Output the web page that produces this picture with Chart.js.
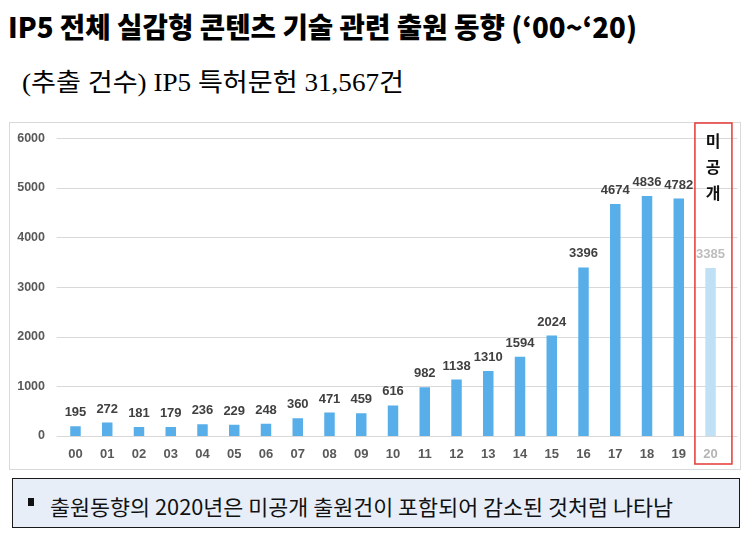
<!DOCTYPE html>
<html>
<head>
<meta charset="utf-8">
<script src="https://cdn.jsdelivr.net/npm/chart.js@4"></script>
<style>
  html, body { margin: 0; padding: 0; background: #fff; }
  body { width: 747px; height: 534px; position: relative; overflow: hidden; }
  .fit { position: absolute; white-space: nowrap; display: inline-block; transform-origin: 0 0; line-height: 1; }
  #title { left: 8px; top: 6px; font: 900 28px "Noto Sans CJK KR", sans-serif; color: #000; }
  #subtitle { left: 22px; top: 62px; font: 400 25px "Liberation Serif", "Noto Sans CJK KR", serif; color: #000; }
  #frame { position: absolute; left: 9px; top: 122px; width: 732px; height: 348px; box-sizing: border-box; border: 1px solid #d9d9d9; }
  #wrap { position: absolute; left: 9px; top: 116px; width: 732px; height: 354px; }
  #note { position: absolute; left: 12px; top: 478px; width: 728px; height: 50px; box-sizing: border-box; border: 1px solid #1a1a1a; background: #e7eef8; }
  #bullet { position: absolute; left: 28px; top: 498px; width: 6px; height: 8px; background: #111; }
  #notetext { left: 50px; top: 491px; font: 400 21px "Noto Sans CJK KR", sans-serif; color: #111; }
</style>
</head>
<body>
<div id="title" class="fit">IP5 전체 실감형 콘텐츠 기술 관련 출원 동향 (‘00~‘20)</div>
<div id="subtitle" class="fit">(추출 건수) IP5 특허문헌 31,567건</div>
<div id="frame"></div>
<div id="wrap"><canvas id="c"></canvas></div>
<div id="note"></div>
<div id="bullet"></div>
<div id="notetext" class="fit">출원동향의 2020년은 미공개 출원건이 포함되어 감소된 것처럼 나타남</div>
<script>
const categories = ['00','01','02','03','04','05','06','07','08','09','10','11','12','13','14','15','16','17','18','19','20'];
const filings = [195,272,181,179,236,229,248,360,471,459,616,982,1138,1310,1594,2024,3396,4674,4836,4782,3385];
const yTickValues = [0,1000,2000,3000,4000,5000,6000];
const unpublishedLabel = ['미','공','개'];
const unpublishedIndex = 20;

function fit(id, target) {
  const el = document.getElementById(id);
  const w = el.getBoundingClientRect().width;
  el.style.transform = 'scaleX(' + (target / w) + ')';
}
fit('title', 629);
fit('subtitle', 382);
fit('notetext', 623);

const barColor = '#57aee9';
const lightColor = '#bfe0f5';

const gridPlugin = {
  id: 'grid',
  beforeDatasetsDraw(chart) {
    const { ctx, chartArea, scales } = chart;
    ctx.save();
    ctx.strokeStyle = '#d9d9d9';
    ctx.lineWidth = 1;
    yTickValues.forEach(v => {
      const y = Math.round(scales.y.getPixelForValue(v)) + 0.5;
      ctx.beginPath();
      ctx.moveTo(chartArea.left - 3, y);
      ctx.lineTo(chartArea.right + 11, y);
      ctx.stroke();
    });
    ctx.restore();
  }
};

const labelPlugin = {
  id: 'labels',
  afterDatasetsDraw(chart) {
    const { ctx } = chart;
    const meta = chart.getDatasetMeta(0);
    ctx.save();
    ctx.font = 'bold 13px "Liberation Sans", sans-serif';
    ctx.textAlign = 'center';
    ctx.textBaseline = 'bottom';
    meta.data.forEach((bar, i) => {
      ctx.fillStyle = i === unpublishedIndex ? '#bdbdbd' : '#404040';
      ctx.fillText(String(filings[i]), bar.x, bar.y - 7);
    });
    const cx = chart.scales.x.getPixelForValue(unpublishedIndex);
    ctx.strokeStyle = '#e53935';
    ctx.lineWidth = 1.5;
    ctx.strokeRect(cx - 15.6, 7, 37, 341);
    ctx.fillStyle = '#111';
    ctx.font = 'bold 16px "Noto Sans CJK KR", sans-serif';
    ctx.textBaseline = 'middle';
    unpublishedLabel.forEach((ch, k) => {
      ctx.fillText(ch, cx + 2.5, 25 + k * 26);
    });
    ctx.restore();
  }
};

new Chart(document.getElementById('c'), {
  type: 'bar',
  data: {
    labels: categories,
    datasets: [{
      data: filings,
      backgroundColor: filings.map((v, i) => i === unpublishedIndex ? lightColor : barColor),
      barPercentage: 0.33,
      categoryPercentage: 1.0
    }]
  },
  options: {
    responsive: true,
    maintainAspectRatio: false,
    animation: false,
    layout: { padding: { top: 9, right: 14.6, bottom: 0, left: 0 } },
    plugins: { legend: { display: false }, tooltip: { enabled: false } },
    scales: {
      x: {
        grid: { display: false, drawTicks: false },
        border: { display: false },
        ticks: {
          padding: 11,
          font: { family: '"Liberation Sans", sans-serif', size: 13, weight: 'bold' },
          color: ctx => ctx.index === unpublishedIndex ? '#b4b4b4' : '#595959'
        },
        afterFit(s) { s.height = 34; }
      },
      y: {
        min: 0, max: 6000,
        grid: { display: false, drawTicks: false },
        border: { display: false },
        ticks: {
          stepSize: 1000,
          padding: 14.6,
          callback: v => String(v),
          font: { family: '"Liberation Sans", sans-serif', size: 12.5, weight: 'bold' },
          color: '#595959'
        },
        afterFit(s) { s.width = 50.6; }
      }
    }
  },
  plugins: [gridPlugin, labelPlugin]
});
</script>
</body>
</html>
